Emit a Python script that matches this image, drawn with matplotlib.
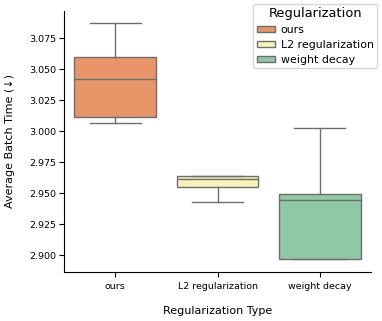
import matplotlib

matplotlib.use("Agg")
import matplotlib.pyplot as plt
from matplotlib.patches import Patch

# data (box stats per group)
categories = ["ours", "L2 regularization", "weight decay"]
whislo = [3.0061, 2.9427, 2.8964]
q1 = [3.0113, 2.9548, 2.8964]
med = [3.0423, 2.9610, 2.9446]
q3 = [3.0601, 2.9635, 2.9495]
whishi = [3.0871, 2.9635, 3.0027]
colors = ["#e8956a", "#f5f3b9", "#8fc8a5"]

stats = []
for i, name in enumerate(categories):
    stats.append({"label": name, "whislo": whislo[i], "q1": q1[i], "med": med[i],
                  "q3": q3[i], "whishi": whishi[i], "fliers": []})

fig = plt.figure(figsize=(3.82, 3.21), dpi=100)
ax = fig.add_axes([64 / 382, 49 / 321, 307 / 382, 261 / 321])

edge = "#6e6e6e"
bp = ax.bxp(stats, positions=range(3), widths=0.8, capwidths=0.5, patch_artist=True,
            showfliers=False,
            boxprops=dict(edgecolor=edge, linewidth=1.0),
            medianprops=dict(color=edge, linewidth=1.0),
            whiskerprops=dict(color=edge, linewidth=1.0),
            capprops=dict(color=edge, linewidth=1.0))
for patch, c in zip(bp["boxes"], colors):
    patch.set_facecolor(c)

ax.set_xlim(-0.5, 2.5)
ax.set_ylim(2.8863, 3.0968)
ax.set_yticks([2.900, 2.925, 2.950, 2.975, 3.000, 3.025, 3.050, 3.075])
ax.set_yticklabels([f"{v:.3f}" for v in ax.get_yticks()])
ax.set_xticks(range(3))
ax.set_xticklabels(categories)
ax.tick_params(labelsize=6.8, length=3.5, width=0.8, pad=2)
ax.tick_params(axis="x", pad=3.5)
ax.spines["top"].set_visible(False)
ax.spines["right"].set_visible(False)
ax.set_xlabel("Regularization Type", fontsize=8.0, labelpad=11)
ax.set_ylabel("Average Batch Time (\u2193)", fontsize=8.0, labelpad=10)

handles = [Patch(facecolor=c, edgecolor=edge, label=n) for c, n in zip(colors, categories)]
leg = ax.legend(handles=handles, title="Regularization", fontsize=7.9, title_fontsize=9.4,
                loc="upper right", bbox_to_anchor=(377 / 382, 1 - 4 / 321),
                bbox_transform=fig.transFigure, borderaxespad=0, handlelength=1.7,
                handleheight=0.5, labelspacing=0.45, borderpad=0.3, handletextpad=0.5)

fig.savefig("out.png", dpi=100)
